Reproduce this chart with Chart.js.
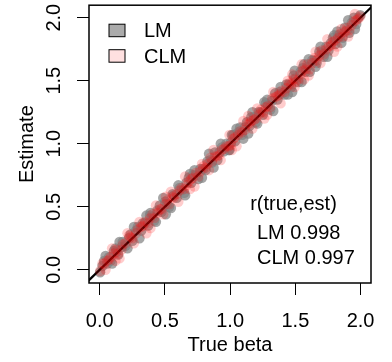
<!DOCTYPE html>
<html><head><meta charset="utf-8">
<script src="https://cdn.jsdelivr.net/npm/chart.js@4/dist/chart.umd.min.js"></script>
<style>html,body{margin:0;padding:0;background:#fff;}#wrap{width:392px;height:362px;}</style>
</head><body><div id="wrap"><canvas id="c" width="392" height="362"></canvas></div>
<script>
const trueBeta = [0.003,0.021,0.034,0.058,0.071,0.083,0.109,0.127,0.142,0.168,
0.176,0.198,0.224,0.236,0.251,0.279,0.292,0.318,0.331,0.347,
0.372,0.386,0.404,0.418,0.443,0.461,0.474,0.502,0.517,0.533,
0.559,0.568,0.591,0.612,0.627,0.648,0.665,0.683,0.702,0.714,
0.739,0.756,0.771,0.793,0.812,0.826,0.849,0.861,0.884,0.902,
0.918,0.937,0.953,0.971,0.989,1.006,1.024,1.038,1.061,1.077,
1.092,1.113,1.129,1.148,1.162,1.184,1.197,1.219,1.236,1.251,
1.274,1.289,1.308,1.322,1.345,1.363,1.378,1.396,1.417,1.431,
1.452,1.468,1.487,1.503,1.524,1.539,1.556,1.578,1.592,1.611,
1.629,1.647,1.663,1.684,1.702,1.718,1.737,1.754,1.773,1.788,
1.806,1.827,1.841,1.862,1.879,1.896,1.914,1.932,1.948,1.967,
1.983,1.998,
0.045,0.095,0.152,0.213,0.262,0.305,0.358,0.431,0.487,0.546,
0.603,0.655,0.727,0.784,0.838,0.873,0.928,0.995,1.049,1.101,
1.171,1.208,1.262,1.331,1.387,1.442,1.495,1.548,1.602,1.655,
1.693,1.745,1.797,1.853,1.905,1.957,0.121,0.389,0.692,1.013,
1.284,1.567,1.822,0.507,1.139,1.476];
const lmEst = [-0.02,0.03,0.07,0.05,0.10,0.07,0.15,0.14,0.12,0.18,
0.22,0.19,0.25,0.28,0.23,0.31,0.34,0.31,0.37,0.37,
0.35,0.43,0.42,0.39,0.47,0.51,0.46,0.54,0.52,0.50,
0.60,0.59,0.57,0.65,0.63,0.61,0.69,0.73,0.69,0.75,
0.75,0.72,0.80,0.80,0.79,0.86,0.87,0.85,0.93,0.87,
0.93,0.97,0.94,1.00,0.95,1.01,1.07,1.02,1.09,1.13,
1.07,1.13,1.17,1.14,1.21,1.21,1.17,1.25,1.25,1.23,
1.32,1.31,1.27,1.34,1.40,1.35,1.41,1.40,1.39,1.47,
1.47,1.45,1.54,1.52,1.49,1.57,1.60,1.57,1.61,1.57,
1.66,1.66,1.64,1.73,1.72,1.69,1.77,1.74,1.80,1.84,
1.79,1.86,1.85,1.84,1.92,1.90,1.88,1.96,2.00,1.95,
2.00,2.02,
0.11,0.05,0.22,0.17,0.34,0.25,0.43,0.38,0.57,0.49,
0.67,0.59,0.79,0.73,0.92,0.81,1.00,0.95,1.12,1.04,
1.25,1.16,1.33,1.26,1.45,1.39,1.58,1.49,1.67,1.61,
1.77,1.69,1.86,1.80,1.98,1.91,0.17,0.45,0.76,1.07,
1.35,1.63,1.89,0.44,1.08,1.41];
const clmEst = [-0.01,0.05,0.05,0.07,0.08,0.10,0.13,0.16,0.13,0.16,
0.20,0.21,0.27,0.26,0.25,0.29,0.32,0.34,0.35,0.38,
0.37,0.41,0.44,0.41,0.45,0.48,0.48,0.52,0.55,0.52,
0.58,0.57,0.60,0.63,0.65,0.64,0.67,0.70,0.72,0.73,
0.77,0.74,0.78,0.82,0.81,0.84,0.89,0.86,0.90,0.90,
0.91,0.95,0.96,0.98,0.98,0.99,1.04,1.05,1.07,1.10,
1.09,1.11,1.15,1.16,1.18,1.19,1.20,1.23,1.27,1.25,
1.29,1.30,1.29,1.36,1.37,1.38,1.39,1.42,1.41,1.44,
1.48,1.47,1.51,1.49,1.51,1.55,1.58,1.59,1.63,1.59,
1.64,1.68,1.66,1.70,1.74,1.71,1.75,1.77,1.78,1.81,
1.82,1.84,1.87,1.85,1.89,1.92,1.90,1.94,1.97,1.98,
1.99,2.01,
0.00,0.17,0.09,0.29,0.21,0.38,0.29,0.51,0.44,0.62,
0.54,0.74,0.66,0.84,0.79,0.95,0.87,1.07,0.98,1.18,
1.12,1.28,1.20,1.41,1.32,1.50,1.45,1.63,1.54,1.73,
1.64,1.83,1.73,1.91,1.85,2.03,0.07,0.33,0.64,0.95,
1.23,1.51,1.77,0.58,1.22,1.55];
const refLine = [-0.3, 2.3];
const xTicks = [0, 0.5, 1, 1.5, 2];
const yTicks = [0, 0.5, 1, 1.5, 2];
const tickLabels = ['0.0', '0.5', '1.0', '1.5', '2.0'];
const seriesNames = ['LM', 'CLM'];
const corrTitle = 'r(true,est)';
const corrLabels = ['LM 0.998', 'CLM 0.997'];
const xTitle = 'True beta';
const yTitle = 'Estimate';

const FONT = "'Liberation Sans', Arial, Helvetica, sans-serif";
const lmColor = 'rgba(128,128,128,0.7)';
const clmColor = 'rgba(255,0,0,0.2)';
const lmLegend = '#ababab';
const clmLegend = '#ffe0e0';

const decor = {
  id: 'decor',
  afterDraw(chart) {
    const ctx = chart.ctx;
    const a = chart.chartArea;
    ctx.save();
    ctx.strokeStyle = '#000';
    ctx.lineWidth = 1.5;
    ctx.strokeRect(a.left, a.top, a.right - a.left, a.bottom - a.top);
    const fills = [lmLegend, clmLegend];
    ctx.font = '20px ' + FONT;
    ctx.textBaseline = 'alphabetic';
    ctx.textAlign = 'left';
    seriesNames.forEach((n, i) => {
      const by = a.top + 19 + i * 25.5;
      ctx.fillStyle = fills[i];
      ctx.fillRect(a.left + 20, by, 16, 12.5);
      ctx.lineWidth = 1;
      ctx.strokeStyle = '#000';
      ctx.strokeRect(a.left + 20, by, 16, 12.5);
      ctx.fillStyle = '#000';
      ctx.fillText(n, a.left + 55, by + 13);
    });
    ctx.fillStyle = '#000';
    ctx.textAlign = 'center';
    ctx.fillText(corrTitle, a.right - 77.5, a.bottom - 73.5);
    ctx.textAlign = 'left';
    corrLabels.forEach((t, i) => {
      ctx.fillText(t, a.right - 114, a.bottom - 43.7 + i * 24.7);
    });
    ctx.restore();
  }
};

const tickFmt = (v) => { const i = xTicks.indexOf(v); return i >= 0 ? tickLabels[i] : ''; };

new Chart(document.getElementById('c'), {
  type: 'scatter',
  data: {
    datasets: [
      { label: seriesNames[1], data: trueBeta.map((x, i) => ({x, y: clmEst[i]})),
        backgroundColor: clmColor, borderWidth: 0, pointRadius: 5.2, order: 0 },
      { label: 'ref', data: refLine.map(v => ({x: v, y: v})), showLine: true,
        borderColor: '#000', borderWidth: 2.2, pointRadius: 0, clip: 0, order: 1 },
      { label: seriesNames[0], data: trueBeta.map((x, i) => ({x, y: lmEst[i]})),
        backgroundColor: lmColor, borderWidth: 0, pointRadius: 5.2, order: 2 }
    ]
  },
  options: {
    responsive: false, animation: false, devicePixelRatio: 1,
    layout: { padding: { top: 3, right: 21, left: 0, bottom: 0 } },
    plugins: { legend: { display: false }, tooltip: { enabled: false } },
    scales: {
      x: {
        type: 'linear', min: -0.082, max: 2.08,
        afterBuildTicks: s => { s.ticks = xTicks.map(v => ({value: v})); },
        afterFit: s => { s.height = 79; s.paddingLeft = 0; s.paddingRight = 0; },
        ticks: { callback: tickFmt, font: { family: FONT, size: 20 }, color: '#000', padding: 14, maxRotation: 0, autoSkip: false },
        grid: { drawOnChartArea: false, tickLength: 12, color: '#000', lineWidth: 1 },
        border: { display: false },
        title: { display: true, text: xTitle, font: { family: FONT, size: 20 }, color: '#000', padding: { top: 0, bottom: 5 } }
      },
      y: {
        type: 'linear', min: -0.105, max: 2.099,
        afterBuildTicks: s => { s.ticks = yTicks.map(v => ({value: v})); },
        afterFit: s => { s.width = 89; s.paddingTop = 0; s.paddingBottom = 0; },
        ticks: { callback: tickFmt, font: { family: FONT, size: 20 }, color: '#000', padding: 9, minRotation: 90, maxRotation: 90, crossAlign: 'center', autoSkip: false },
        grid: { drawOnChartArea: false, tickLength: 12, color: '#000', lineWidth: 1 },
        border: { display: false },
        title: { display: true, text: yTitle, font: { family: FONT, size: 20 }, color: '#000', padding: { top: 15, bottom: 0 } }
      }
    }
  },
  plugins: [decor]
});
</script></body></html>
